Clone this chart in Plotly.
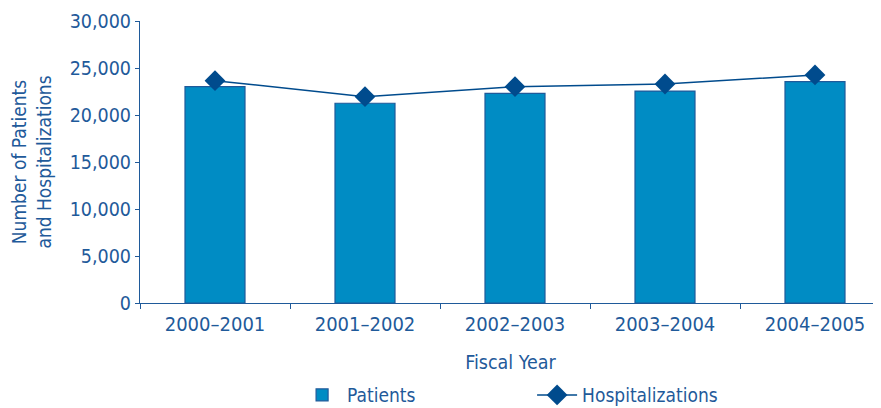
import plotly.graph_objects as go

categories = ["2000–2001", "2001–2002", "2002–2003", "2003–2004", "2004–2005"]
patients = [23010, 21250, 22310, 22550, 23540]
hospitalizations = [23650, 21950, 23010, 23300, 24260]
y_ticks = [0, 5000, 10000, 15000, 20000, 25000, 30000]

TEXT = "#1F5A9A"
BAR = "#008CC4"
DARK = "#004B8D"
FONT = "DejaVu Sans Condensed, sans-serif"

fig = go.Figure()
fig.add_trace(go.Bar(
    x=categories, y=patients, name="Patients", width=0.4,
    marker=dict(color=BAR, line=dict(color="#1F5A9A", width=1.2)),
))
fig.add_trace(go.Scatter(
    x=categories, y=hospitalizations, name="Hospitalizations",
    mode="lines+markers",
    line=dict(color=DARK, width=1.5),
    marker=dict(symbol="diamond", size=16, color=DARK),
))

# page body has an 8px default margin, so the figure is 8px smaller
fig.update_layout(
    width=873, height=400,
    margin=dict(l=132, r=0, t=13, b=105, autoexpand=False),
    paper_bgcolor="white", plot_bgcolor="white",
    font=dict(family=FONT, color=TEXT, size=19),
    showlegend=True,
    legend=dict(orientation="h", x=0.212, xanchor="left", y=-0.259, yanchor="top",
                font=dict(size=19, color=TEXT), entrywidth=180, itemwidth=40),
)
fig.update_xaxes(
    range=[-0.5, 4.44], showline=True, linecolor=TEXT, linewidth=1.2,
    ticks="outside", tickson="boundaries", ticklen=5, tickcolor=TEXT,
    tickfont=dict(size=20, color=TEXT), automargin=False, ticklabelstandoff=3,
    title=dict(text="Fiscal Year", font=dict(size=19.5, color=TEXT), standoff=20),
    showgrid=False,
)
fig.update_yaxes(
    range=[0, 30000], tickvals=y_ticks, tickformat=",",
    showline=True, linecolor=TEXT, linewidth=1.2,
    ticks="outside", ticklen=4, tickcolor=TEXT, automargin=False,
    tickfont=dict(size=19.5, color=TEXT), showgrid=False, zeroline=False,
    title=dict(text="Number of Patients<br>and Hospitalizations", font=dict(size=19, color=TEXT), standoff=14),
)

fig.write_html("out.html")
